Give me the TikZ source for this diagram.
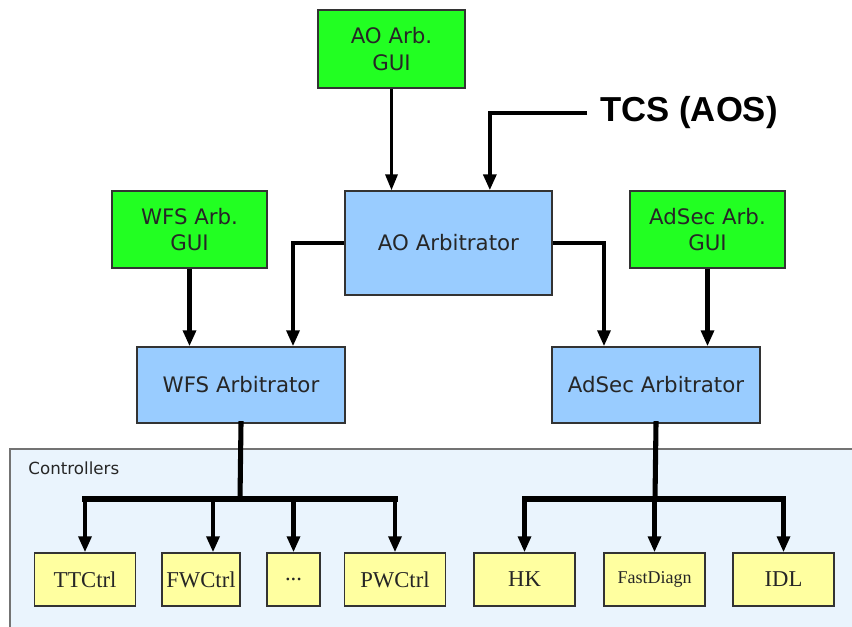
\documentclass[tikz,border=0pt]{standalone}
\usepackage{fontspec}
\setmainfont{Liberation Serif}
\setsansfont{DejaVu Sans}
\newfontfamily\tcsfont{Liberation Sans}
\usetikzlibrary{arrows.meta}

\definecolor{guigreen}{RGB}{34,255,34}
\definecolor{arbblue}{RGB}{153,204,255}
\definecolor{ctrlyellow}{RGB}{255,255,160}
\definecolor{ctrlbg}{RGB}{234,244,253}

\tikzset{every picture/.style={line width=0.75pt},
  basebox/.style={draw=black!80, line width=1pt, inner sep=0pt, align=center, text=black!85},
  guibox/.style={basebox, fill=guigreen, font=\sffamily\fontsize{16}{20}\selectfont, minimum width=116.25pt, minimum height=57.75pt},
  arbbox/.style={basebox, fill=arbblue, font=\sffamily\fontsize{16}{20}\selectfont, minimum width=156pt, minimum height=57pt},
  ctrlbox/.style={basebox, fill=ctrlyellow, font=\rmfamily\fontsize{17}{19}\selectfont, minimum width=75.75pt, minimum height=39.75pt},
  link/.style={line width=3.4pt, -{Triangle[length=12pt,width=9.5pt]}},
  thinlink/.style={line width=2.4pt, -{Triangle[length=12pt,width=9pt]}},
  busline/.style={line width=3.8pt, line cap=rect}
}

\begin{document}
\begin{tikzpicture}[x=0.75pt,y=0.75pt,yscale=-1,xscale=1]
\clip (0,0) rectangle (852,626);
\fill[white] (0,0) rectangle (852,626);

%Controllers frame
\draw [draw=black!55, fill=ctrlbg, line width=0.8pt] (10,449) rectangle (870,640) ;
\node (ctrllabel) [anchor=west, inner sep=0pt, font=\sffamily\fontsize{12.5}{14}\selectfont, text=black!85] at (28,468) {Controllers};

%GUIs
\node (aogui) [guibox, minimum width=110.25pt, minimum height=58.5pt] at (391.5,49) {AO Arb.\\GUI};
\node (wfsgui) [guibox] at (189.5,229.5) {WFS Arb.\\GUI};
\node (adsecgui) [guibox] at (707.5,229.5) {AdSec Arb.\\GUI};

%Arbitrators
\node (aoarb) [arbbox, minimum width=155.25pt, minimum height=78pt] at (448.5,243) {AO Arbitrator};
\node (wfsarb) [arbbox] at (241,385) {WFS Arbitrator};
\node (adsecarb) [arbbox] at (656,385) {AdSec Arbitrator};

%TCS
\node (tcs) [anchor=west, inner sep=0pt, font=\tcsfont\bfseries\fontsize{26}{30}\selectfont] at (600,113) {TCS (AOS)};

%Controllers
\node (ttctrl) [ctrlbox] at (85,579.5) {TTCtrl};
\node (fwctrl) [ctrlbox, minimum width=58.5pt] at (201,579.5) {FWCtrl};
\node (dots) [ctrlbox, minimum width=39.75pt] at (293.5,579.5) {...};
\node (pwctrl) [ctrlbox] at (395,579.5) {PWCtrl};
\node (hk) [ctrlbox] at (524.5,579.5) {HK};
\node (fastdiagn) [ctrlbox, font=\rmfamily\fontsize{13.5}{15}\selectfont] at (654.5,579.5) {FastDiagn};
\node (idl) [ctrlbox] at (783.5,579.5) {IDL};

%Bus points
\coordinate (wfsbus) at (240,499);
\coordinate (adsecbus) at (655,499);

%Connectors
\draw [thinlink] (aogui.south) -- (aogui.south |- aoarb.north);
\draw [link] ([xshift=-9.75pt]tcs.west) -| ([xshift=31pt]aoarb.north);
\draw [link] (aoarb.west) -| ([xshift=39pt]wfsarb.north);
\draw [link] (aoarb.east) -| ([xshift=-39pt]adsecarb.north);
\draw [link] (wfsgui.south) -- (wfsgui.south |- wfsarb.north);
\draw [link] (adsecgui.south) -- (adsecgui.south |- adsecarb.north);

\draw [busline] (wfsarb.south) -- (wfsbus);
\draw [busline] (ttctrl.north |- wfsbus) -- (pwctrl.north |- wfsbus);
\draw [link] (ttctrl.north |- wfsbus) -- (ttctrl.north);
\draw [link] ([xshift=9pt]fwctrl.north |- wfsbus) -- ([xshift=9pt]fwctrl.north);
\draw [link] (dots.north |- wfsbus) -- (dots.north);
\draw [link] (pwctrl.north |- wfsbus) -- (pwctrl.north);

\draw [busline] (adsecarb.south) -- (adsecbus);
\draw [busline] (hk.north |- adsecbus) -- (idl.north |- adsecbus);
\foreach \c in {hk,fastdiagn,idl}
  \draw [link] (\c.north |- adsecbus) -- (\c.north);

\end{tikzpicture}
\end{document}
